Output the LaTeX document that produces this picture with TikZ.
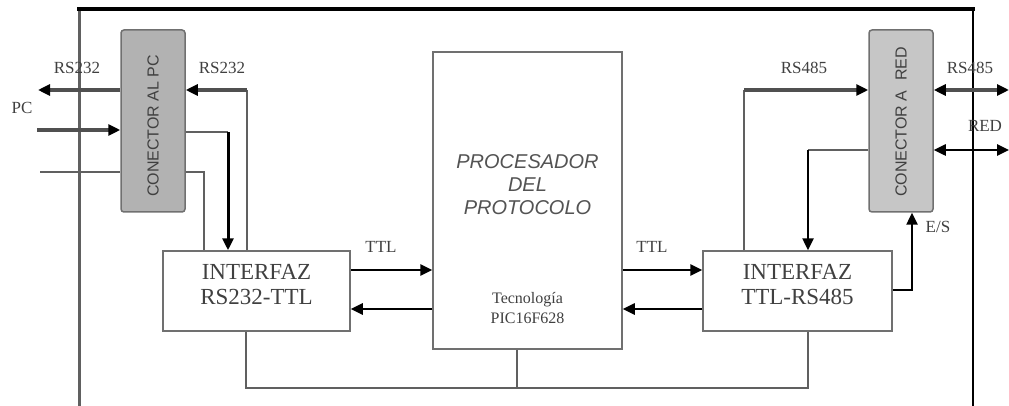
\documentclass[tikz,border=0pt]{standalone}
\usepackage{fontspec}
\setmainfont{Liberation Serif}
\setsansfont{Liberation Sans}
\usetikzlibrary{arrows.meta}
\definecolor{boxline}{HTML}{707070}
\definecolor{wire}{HTML}{606060}
\definecolor{twire}{HTML}{505050}
\definecolor{txt}{HTML}{404040}
\definecolor{conA}{HTML}{B2B2B2}
\definecolor{conB}{HTML}{C6C6C6}
\tikzset{
  blk/.style={draw=boxline, line width=1.5pt, fill=white, inner sep=0pt},
  conn/.style={blk, rounded corners=3pt, minimum width=64pt, minimum height=182pt},
  lbl/.style={font=\fontsize{17}{19}\selectfont, text=txt, inner sep=0pt},
  btxt/.style={font=\fontsize{23}{25}\selectfont, text=txt, align=center, inner sep=0pt},
  ctxt/.style={font=\sffamily\fontsize{16}{18}\selectfont, text=txt, rotate=90, inner sep=0pt},
  thinw/.style={draw=wire, line width=1.5pt},
  thickw/.style={draw=twire, line width=3.5pt},
  medw/.style={draw=black, line width=2.5pt},
  tip/.style={-{Triangle[length=12pt,width=11pt,color=black]}},
  tips/.style={{Triangle[length=12pt,width=11pt,color=black]}-{Triangle[length=12pt,width=11pt,color=black]}},
}
\begin{document}
\begin{tikzpicture}[x=1pt,y=-1pt]
\useasboundingbox (0,0) rectangle (1009,406);
% frame
\draw[draw=wire, line width=3pt] (79,7) -- (79,406);
\draw[draw=black, line width=2pt] (973,7) -- (973,406);
\draw[draw=black, line width=4pt] (77,9) -- (975,9);

% blocks
\node[conn, fill=conA] (pc) at (153,121) {};
\node[conn, fill=conB] (red) at (901,121) {};
\node[blk, minimum width=187pt, minimum height=80pt] (i1) at (256.5,291) {};
\node[blk, minimum width=189pt, minimum height=297pt] (proc) at (527.5,200.5) {};
\node[blk, minimum width=189pt, minimum height=80pt] (i2) at (797.5,291) {};

% block texts
\node[ctxt] (pct) at (153,126) {CONECTOR AL PC};
\node[ctxt] (redt) at (901,122) {CONECTOR A\hspace{0.6em}RED};
\node[btxt] (i1t) at (256.5,285) {INTERFAZ\\RS232-TTL};
\node[btxt] (i2t) at (797.5,285) {INTERFAZ\\TTL-RS485};
\node[btxt, font=\sffamily\itshape\fontsize{20}{23}\selectfont, text=txt!90] (proct) at (527.5,185) {PROCESADOR\\DEL\\PROTOCOLO};
\node[lbl, align=center, font=\fontsize{16}{20}\selectfont] (tec) at (527.5,308) {Tecnología\\PIC16F628};

% coordinates
\coordinate (pcl) at (38,90);
\coordinate (pcin) at (37,130);
\coordinate (pcth) at (40,172);
\coordinate (r1) at (247,90);
\coordinate (r2) at (228,132);
\coordinate (r3) at (204,172);
\coordinate (b1) at (246,388);
\coordinate (b2) at (808,388);
\coordinate (bm) at (517,388);
\coordinate (s1) at (744,90);
\coordinate (s2) at (808,150);
\coordinate (es) at (912,290);
\coordinate (o1) at (1009,90);
\coordinate (o2) at (1009,150);

% left of PC connector
\draw[thickw, tip] (pc.west |- pcl) -- (pcl);
\draw[thickw, tip] (pcin) -- (pc.west |- pcin);
\draw[thinw] (pcth) -- (pc.west |- pcth);

% PC connector to interface
\draw[thinw] (i1.north -| r1) -- (r1);
\draw[thickw, tip] (r1) -- (pc.east |- r1);
\draw[thinw] (pc.east |- r2) -- (r2);
\draw[medw, line width=3pt, tip] (r2) -- (i1.north -| r2);
\draw[thinw] (pc.east |- r3) -- (r3) -- (i1.north -| r3);

% TTL links
\draw[medw, tip] (i1.east |- 0,270) -- (proc.west |- 0,270);
\draw[medw, tip] (proc.west |- 0,309) -- (i1.east |- 0,309);
\draw[medw, tip] (proc.east |- 0,270) -- (i2.west |- 0,270);
\draw[medw, tip] (i2.west |- 0,309) -- (proc.east |- 0,309);

% bottom bus
\draw[thinw] (i1.south -| b1) -- (b1) -- (b2) -- (i2.south -| b2);
\draw[thinw] (proc.south -| bm) -- (bm);

% right side
\draw[thinw] (i2.north -| s1) -- (s1);
\draw[thickw, tip] (s1) -- (red.west |- s1);
\draw[thinw] (red.west |- s2) -- (s2);
\draw[medw, tip] (s2) -- (i2.north -| s2);
\draw[medw, tip] (i2.east |- es) -- (es) -- (red.south -| es);
\draw[thickw, tips] (red.east |- o1) -- (o1);
\draw[medw, tips] (red.east |- o2) -- (o2);

% labels
\node[lbl] (l1) at (77,68) {RS232};
\node[lbl] (l2) at (222,68) {RS232};
\node[lbl] (l3) at (22,108) {PC};
\node[lbl] (l4) at (381,247) {TTL};
\node[lbl] (l5) at (652,247) {TTL};
\node[lbl] (l6) at (804,68) {RS485};
\node[lbl] (l7) at (970,68) {RS485};
\node[lbl] (l8) at (985,126) {RED};
\node[lbl] (l9) at (938,227) {E/S};
\end{tikzpicture}
\end{document}
